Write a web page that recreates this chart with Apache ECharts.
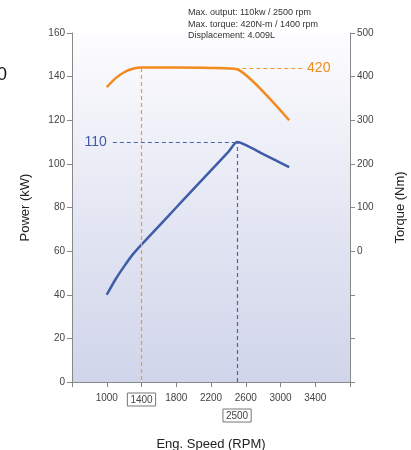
<!DOCTYPE html>
<html><head><meta charset="utf-8">
<script src="https://cdn.jsdelivr.net/npm/echarts@6/dist/echarts.min.js"></script>
<style>html,body{margin:0;padding:0;background:#fff}#c{width:411px;height:450px}</style>
</head><body><div id="c"></div>
<script>
var rpmPower = [1000, 1100, 1200, 1300, 1400, 1600, 1800, 2000, 2200, 2400, 2500, 2800, 3100];
var powerKW  = [40, 47, 53, 58.5, 63, 71.5, 80, 88.5, 97, 105.5, 110, 104.5, 98.5];
var rpmTorque = [1000, 1100, 1200, 1300, 1400, 1800, 2200, 2500, 3100];
var torqueNm  = [376, 396, 410, 418, 421, 421, 420, 417, 300];
var infoLines = ['Max. output: 110kw / 2500 rpm', 'Max. torque: 420N-m / 1400 rpm', 'Displacement: 4.009L'];
var peakPower = {rpm: 2500, value: 110, label: '110'};
var peakTorque = {rpm: 1400, value: 420, label: '420'};

var blue = '#3f5ca8', orange = '#f28a1e';
var chart = echarts.init(document.getElementById('c'));
var labelStyle = {color: '#444', fontSize: 10, fontFamily: 'Arial, Liberation Sans'};
var dashBlue = {color: '#4a66b0', type: [4, 3], width: 1.2};
var dashOrange = {color: '#f5963a', type: [4, 3], width: 1.2};
chart.setOption({
  animation: false,
  title: {text: infoLines.join('\n'), left: 188, top: 7, padding: 0,
    textStyle: {fontSize: 9, fontWeight: 'normal', color: '#333', lineHeight: 11.5, fontFamily: 'Arial, Liberation Sans'}},
  graphic: [{type: 'text', left: -3, top: 66, style: {text: '0', fontSize: 18, fill: '#111', fontFamily: 'Arial, Liberation Sans'}}],
  grid: {left: 72, right: 61, top: 33, bottom: 68, show: true, borderWidth: 0, containLabel: false, outerBoundsMode: 'none',
    backgroundColor: {type: 'linear', x: 0, y: 0, x2: 0, y2: 1,
      colorStops: [{offset: 0, color: '#fdfdff'}, {offset: 0.5, color: '#e5e7f3'}, {offset: 1, color: '#d0d5ea'}]}},
  xAxis: {type: 'value', min: 600, max: 3800, interval: 400,
    name: 'Eng. Speed (RPM)', nameLocation: 'middle', nameGap: 56,
    nameTextStyle: {fontSize: 13, color: '#222', fontFamily: 'Arial, Liberation Sans'},
    axisLine: {lineStyle: {color: '#888'}}, axisTick: {length: 5, lineStyle: {color: '#888'}},
    splitLine: {show: false},
    axisLabel: Object.assign({margin: 11, formatter: function (v) {
      if (v === 600 || v === 3800) return '';
      if (v === peakTorque.rpm) return '{b|' + v + '}';
      return String(v);
    }, rich: {b: {borderColor: '#777', borderWidth: 1, padding: [2, 3, 1, 3], fontSize: 10, color: '#444'}}}, labelStyle)},
  yAxis: [{type: 'value', min: 0, max: 160, interval: 20,
    name: 'Power (kW)', nameLocation: 'middle', nameGap: 40,
    nameTextStyle: {fontSize: 13, color: '#222', fontFamily: 'Arial, Liberation Sans'},
    axisLine: {show: true, lineStyle: {color: '#888'}}, axisTick: {show: true, length: 5, lineStyle: {color: '#888'}},
    splitLine: {show: false}, axisLabel: Object.assign({margin: 7}, labelStyle)},
   {type: 'value', min: -300, max: 500, interval: 100, position: 'right',
    name: 'Torque (Nm)', nameLocation: 'middle', nameGap: 44,
    nameTextStyle: {fontSize: 13, color: '#222', fontFamily: 'Arial, Liberation Sans'},
    axisLine: {show: true, lineStyle: {color: '#888'}}, axisTick: {show: true, length: 5, lineStyle: {color: '#888'}},
    splitLine: {show: false}, axisLabel: Object.assign({margin: 7, formatter: function (v) { return v < 0 ? '' : String(v); }}, labelStyle)}],
  series: [
    {type: 'line', yAxisIndex: 0, data: rpmPower.map(function (r, i) { return [r, powerKW[i]]; }),
     smooth: 0.2, showSymbol: false, lineStyle: {color: blue, width: 2.5}, itemStyle: {color: blue}, z: 3,
     markLine: {silent: true, symbol: 'none', animation: false,
       lineStyle: dashBlue,
       data: [
         [{coord: [1070, peakPower.value], lineStyle: dashBlue, label: {show: true, position: 'start', formatter: peakPower.label, color: blue, fontSize: 14, distance: 6}},
          {coord: [peakPower.rpm, peakPower.value], lineStyle: dashBlue}],
         [{coord: [peakPower.rpm, 0], lineStyle: dashBlue, label: {show: true, position: 'start', formatter: String(peakPower.rpm), color: '#444', fontSize: 10,
            borderColor: '#777', borderWidth: 1, padding: [2, 3, 1, 3], distance: 27}},
          {coord: [peakPower.rpm, peakPower.value], lineStyle: dashBlue}]
       ]}},
    {type: 'line', yAxisIndex: 1, data: rpmTorque.map(function (r, i) { return [r, torqueNm[i]]; }),
     smooth: 0.2, showSymbol: false, lineStyle: {color: orange, width: 2.5}, itemStyle: {color: orange}, z: 3,
     markLine: {silent: true, symbol: 'none', animation: false,
       lineStyle: dashOrange,
       data: [
         [{coord: [2480, peakTorque.value], lineStyle: dashOrange},
          {coord: [3260, peakTorque.value], lineStyle: dashOrange, label: {show: true, position: 'end', formatter: peakTorque.label, color: orange, fontSize: 14, distance: 4}}],
         [{coord: [peakTorque.rpm, peakTorque.value], lineStyle: dashOrange}, {coord: [peakTorque.rpm, -300], lineStyle: dashOrange}]
       ]}}
  ]
});
</script></body></html>
